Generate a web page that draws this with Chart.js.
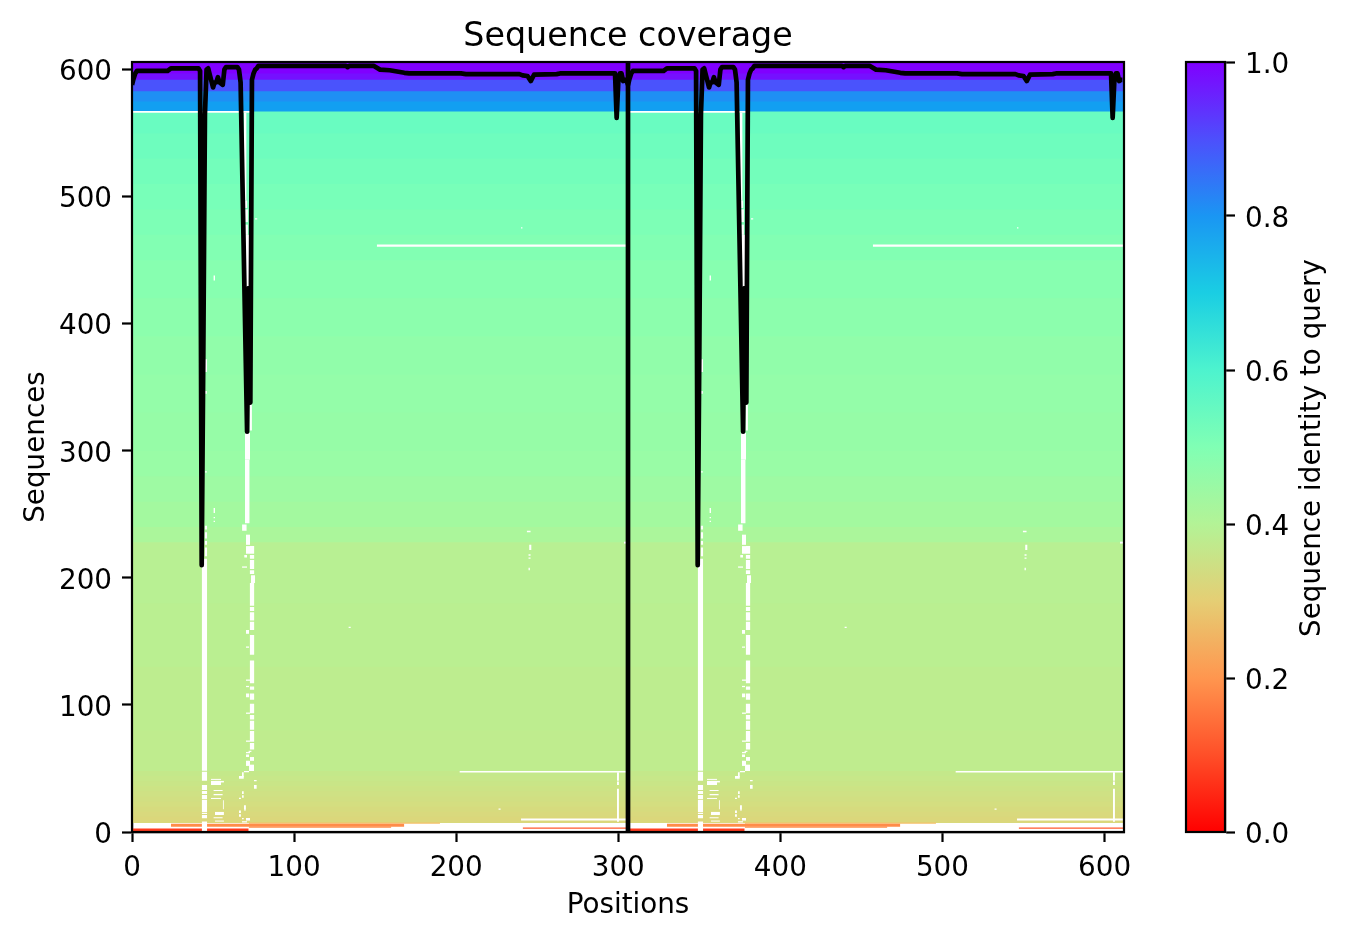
<!DOCTYPE html>
<html lang="en">
<head>
    <meta charset="UTF-8">
    <title>Sequence coverage</title>
    <script src="https://cdn.jsdelivr.net/npm/chart.js"></script>
    <style>
        html, body { margin: 0; padding: 0; background: #fff; }
        canvas { position: absolute; left: 0; top: 0; }
    </style>
</head>
<body>
    <canvas id="coverageChart" width="1347" height="939"></canvas>
    <canvas id="colorbarChart" width="1347" height="939"></canvas>

    <script>
        // the query is a doubled sequence, so everything repeats after this position
        const copyLength = 306;
        const xMax = 612;
        const yMax = 606;
        const firstFilledRow = 7.5;
        const xTicks = [0, 100, 200, 300, 400, 500, 600];
        const yTicks = [0, 100, 200, 300, 400, 500, 600];

        // identity of the sequences, sorted: top row of each band and its identity
        const bandTopRows = [12, 16, 20, 24, 28, 32, 36, 40, 44, 48, 80, 130, 180, 228, 240, 260, 280, 300, 330, 360, 390, 420, 450, 470, 490, 510, 530, 550, 567, 575, 583, 592, 597, 606];
        const bandIdentity = [0.32, 0.325, 0.33, 0.335, 0.34, 0.345, 0.35, 0.355, 0.36, 0.365, 0.375, 0.38, 0.385, 0.39, 0.415, 0.43, 0.44, 0.45, 0.455, 0.46, 0.465, 0.475, 0.485, 0.495, 0.505, 0.515, 0.525, 0.535, 0.545, 0.785, 0.81, 0.895, 0.98, 1.0];

        // low identity fragments at the bottom: rowFrom, rowTo, posFrom, posTo, identity
        const lowIdentityRows = [
            [0.8, 2.8, 0, 72, 0.074],
            [2.5, 3.6, 241, 306, 0.114],
            [3.4, 4.4, 72, 160, 0.185],
            [4.2, 6.4, 24, 168, 0.185],
            [6.4, 7.5, 72, 190, 0.27]
        ];

        // white cells (gaps in the alignment): rowFrom, rowTo, posFrom, posTo
        const gapBlocks = [
            // first column of gaps
            [0, 8.2, 43, 46.4], [10.8, 13.4, 43, 46.4], [14.2, 15.2, 43, 46.4], [15.8, 25.2, 43, 46.4],
            [25.7, 29.2, 43, 46.4], [30, 32.3, 43, 46.4], [33.1, 37, 43, 46.4], [40.4, 47.5, 43, 46.4],
            [48.3, 215, 43, 46.4], [217, 224, 44.8, 46.4], [226, 229, 44.8, 46.4], [231, 236, 44.8, 46.4], [238, 241, 44.8, 46.4],
            [283, 284, 45, 46.2], [345, 347, 45, 46.2], [362, 372, 45, 46.4],
            // pieces beside it
            [41, 41.8, 48.7, 54.9], [37, 40.2, 48.7, 54.9], [39, 40.2, 51.2, 56.7], [32.3, 33, 50.2, 56],
            [29, 30, 50.2, 56], [26, 26.8, 48.7, 54.9], [18, 25, 56, 56.7], [13.4, 15.8, 51.2, 56.7],
            [10.8, 11.6, 50.2, 56], [8.2, 9, 51.2, 56.7], [251, 255, 50.2, 51.2], [247, 248, 50.2, 51.2],
            [244, 245, 50.2, 51.2], [434, 438, 50.2, 51.2],
            // second wandering column, bottom part
            [63, 64, 71.8, 73.8], [59, 61, 70.3, 72.2], [56, 59, 72.8, 75.3], [55, 56, 70.3, 72.2], [53, 55, 70.7, 72.8],
            [48, 53, 72.2, 75.3], [47, 48, 69, 72.2], [43, 47, 67.8, 69], [42, 44, 66, 69], [40, 41, 75.2, 77],
            [34, 37, 75.2, 77], [30, 32, 67.8, 69], [27, 29, 67.8, 69], [26, 27, 66, 67.2], [18, 21, 69, 70.3],
            [17, 18, 69, 70.3], [15, 17, 66, 67.2], [12, 14, 66, 67.2], [10, 11, 67.8, 69], [9, 11, 70.3, 72.8], [7.5, 8.5, 67.8, 71],
            // second wandering column, middle part
            [65, 70, 72.6, 75.5], [71, 79.5, 72.6, 75.5], [80.5, 87.5, 72.6, 75.5], [88.5, 92, 72.6, 75.5],
            [93.5, 101, 72.6, 75.5], [104, 109, 72.6, 75.5], [112, 114.5, 72.6, 75.5], [117, 135, 72.6, 75.5],
            [139.5, 155, 72.6, 75.5], [159, 165.5, 72.6, 75.5], [166.5, 173, 72.6, 75.5], [174, 177, 72.6, 75.5],
            [178, 196, 72.6, 75.5], [196, 202, 73.4, 76], [203, 206, 72.6, 75.5], [207, 214, 72.6, 75.5],
            [215, 218, 72.6, 75.5], [219, 225, 72.6, 75.5],
            [208, 209, 67.9, 71], [226, 234, 70.3, 72.8], [237, 242, 67.9, 70.8],
            [156, 159, 70.3, 72.2], [145, 146, 70.3, 72.2], [119, 120, 70.3, 72.8], [114, 115, 70.3, 72.2],
            [106, 109, 70.3, 72.4], [93, 94, 70.3, 72.8], [71, 72, 70.3, 72.8], [62, 63, 70.3, 72.8], [52, 56, 70.3, 72.8],
            [219, 225, 70.3, 72.8], [216, 218, 69.2, 71],
            // upper part, mostly under the coverage line
            [243, 293, 69.7, 72.6], [293, 314, 69.7, 72.8], [316, 337, 72.4, 74], [338, 428, 70, 72.8],
            [428, 470, 69.7, 72.8], [470, 478, 69.7, 71.5], [480, 490, 69.7, 71.5], [491, 497, 69.7, 71.2],
            [497, 566, 69.1, 70.7], [482, 483, 75.8, 77.4],
            // single cells and long lines
            [160.5, 161.5, 133.5, 135], [206, 208, 244.5, 245.5], [215, 216, 244.5, 246], [217.5, 218.5, 244.5, 246], [222, 226, 245, 246.5], [236, 237, 243.5, 246],
            [17.5, 18.5, 226, 227.5], [475, 476, 240, 241], [227, 228.5, 303.5, 306],
            [460.6, 462.4, 151, 306], [566, 567.5, 0, 74], [46.8, 48, 202, 306], [9, 10.6, 240, 306],
            [8, 34, 299.2, 300.4], [37, 39.7, 299.2, 300.4], [40.4, 47, 299.2, 300.4]
        ];

        // coverage curve of one copy, read at the positions where it changes
        const coveragePositions = [0, 1, 2, 3, 22, 24, 41, 42, 43, 44, 45, 46, 47, 48, 50, 51, 52, 53, 54, 56, 57, 58, 65, 66, 67, 71, 72, 73, 74, 75, 76, 77, 78, 132, 133, 134, 149, 153, 159, 168, 171, 203, 206, 239, 241, 244, 246, 248, 262, 264, 298, 299, 300, 301, 302, 303, 304, 305];
        const coverageDepth = [588, 593, 597, 599, 599, 601, 601, 599, 210, 378, 565, 600, 601, 596, 586, 590, 590, 594, 590, 588, 600, 602, 602, 600, 590, 315, 428, 338, 592, 597, 600, 601, 603, 603, 602, 603, 603, 600, 599.5, 597.5, 597, 597, 596.5, 596.5, 595.5, 595, 591, 596, 596.5, 597, 597, 562, 590, 597, 597, 591, 592, 592];

        // colorbar
        const colorbarTicks = [0, 0.2, 0.4, 0.6, 0.8, 1.0];
        const colorbarStops = [0, 0.1, 0.2, 0.3, 0.4, 0.5, 0.6, 0.7, 0.8, 0.9, 1.0];

        const titleText = 'Sequence coverage';
        const xTitleText = 'Positions';
        const yTitleText = 'Sequences';
        const barTitleText = 'Sequence identity to query';

        Chart.defaults.font.family = '"DejaVu Sans"';
        Chart.defaults.color = '#000';

        // matplotlib rainbow, reversed (identity 0 is red, 1 is violet)
        function identityColor(v) {
            const x = 1 - v;
            const r = Math.min(1, Math.abs(2 * x - 0.5));
            const g = Math.sin(Math.PI * x);
            const b = Math.cos(Math.PI * x / 2);
            return `rgb(${Math.round(r * 255)},${Math.round(g * 255)},${Math.round(b * 255)})`;
        }

        function block(rowFrom, rowTo, posFrom, posTo, color, order) {
            return {
                data: [{x: posFrom, y: rowTo}, {x: posTo, y: rowTo}],
                fill: {value: rowFrom},
                backgroundColor: color,
                borderWidth: 0,
                pointRadius: 0,
                order: order
            };
        }

        const frame = {
            id: 'frame',
            afterDatasetsDraw(chart) {
                const {ctx, chartArea: a} = chart;
                ctx.save();
                ctx.strokeStyle = '#000';
                ctx.lineWidth = 2.2;
                ctx.strokeRect(a.left, a.top, a.right - a.left, a.bottom - a.top);
                ctx.restore();
            }
        };

        // canvas 'middle' sits a bit high for DejaVu, push the y tick labels down onto their ticks
        const centerYLabels = {
            id: 'centerYLabels',
            beforeDraw(chart) {
                chart.scales.y.getLabelItems().forEach(item => { item.options.translation[1] += 3.5; });
            }
        };

        const datasets = [];

        // bands painted from the top one down so no seams show between them
        bandTopRows.forEach((top, i) => {
            datasets.push(block(firstFilledRow, top, 0, xMax, identityColor(bandIdentity[i]), 30));
        });

        [0, copyLength].forEach(offset => {
            lowIdentityRows.forEach(r => {
                datasets.push(block(r[0], r[1], r[2] + offset, r[3] + offset, identityColor(r[4]), 25));
            });
            gapBlocks.forEach(g => {
                datasets.push(block(g[0], g[1], g[2] + offset, g[3] + offset, '#fff', 20));
            });
        });

        const coverage = [];
        [0, copyLength].forEach(offset => {
            coveragePositions.forEach((p, i) => coverage.push({x: p + offset, y: coverageDepth[i]}));
        });

        datasets.push({
            data: coverage,
            borderColor: '#000',
            borderWidth: 4.7,
            borderJoinStyle: 'round',
            pointRadius: 0,
            fill: false,
            order: 10
        });

        // divider between the two copies
        datasets.push({
            data: [{x: copyLength, y: 0}, {x: copyLength, y: yMax}],
            borderColor: '#000',
            borderWidth: 4.7,
            pointRadius: 0,
            fill: false,
            order: 9
        });

        new Chart(document.getElementById('coverageChart'), {
            type: 'line',
            data: {datasets: datasets},
            plugins: [frame, centerYLabels],
            options: {
                responsive: false,
                devicePixelRatio: 1,
                animation: false,
                layout: {padding: {left: 0, right: 223, top: 0, bottom: 0}},
                plugins: {
                    legend: {display: false},
                    tooltip: {enabled: false},
                    title: {
                        display: true,
                        text: titleText,
                        fullSize: false,
                        color: '#000',
                        font: {size: 33.3, weight: 'normal', lineHeight: 1},
                        padding: {top: 21, bottom: 7.7}
                    }
                },
                scales: {
                    x: {
                        type: 'linear',
                        min: 0,
                        max: xMax,
                        afterFit: s => { s.height = 107; },
                        afterBuildTicks: s => { s.ticks = xTicks.map(v => ({value: v})); },
                        ticks: {padding: 10, maxRotation: 0, autoSkip: false, font: {size: 27.8}},
                        grid: {drawOnChartArea: false, tickLength: 10, tickWidth: 2.2, tickColor: '#000'},
                        border: {color: '#000', width: 2.2},
                        title: {display: true, text: xTitleText, font: {size: 27.8}, padding: {top: 0, bottom: 17}}
                    },
                    y: {
                        min: 0,
                        max: yMax,
                        afterFit: s => { s.width = 132; },
                        afterBuildTicks: s => { s.ticks = yTicks.map(v => ({value: v})); },
                        ticks: {padding: 10, autoSkip: false, font: {size: 27.8}},
                        grid: {drawOnChartArea: false, tickLength: 10, tickWidth: 2.2, tickColor: '#000'},
                        border: {color: '#000', width: 2.2},
                        title: {display: true, text: yTitleText, font: {size: 27.8}, padding: {top: 20, bottom: 0}}
                    }
                }
            }
        });

        // label reads bottom to top, which a right hand scale title can't do
        const barLabel = {
            id: 'barLabel',
            afterDraw(chart) {
                const {ctx, chartArea: a} = chart;
                ctx.save();
                ctx.font = '27.8px "DejaVu Sans"';
                ctx.fillStyle = '#000';
                ctx.textAlign = 'center';
                ctx.textBaseline = 'middle';
                ctx.translate(1313, (a.top + a.bottom) / 2 + 1);
                ctx.rotate(-Math.PI / 2);
                ctx.fillText(barTitleText, 0, 0);
                ctx.restore();
            }
        };

        new Chart(document.getElementById('colorbarChart'), {
            type: 'line',
            data: {
                datasets: [{
                    data: [{x: 0, y: 1}, {x: 1, y: 1}],
                    fill: {value: 0},
                    borderWidth: 0,
                    pointRadius: 0,
                    backgroundColor(context) {
                        const a = context.chart.chartArea;
                        if (!a) return 'transparent';
                        const g = context.chart.ctx.createLinearGradient(0, a.bottom, 0, a.top);
                        colorbarStops.forEach(v => g.addColorStop(v, identityColor(v)));
                        return g;
                    }
                }]
            },
            plugins: [frame, barLabel, centerYLabels],
            options: {
                responsive: false,
                devicePixelRatio: 1,
                animation: false,
                layout: {padding: {left: 1186, right: 0, top: 62, bottom: 107}},
                plugins: {legend: {display: false}, tooltip: {enabled: false}},
                scales: {
                    x: {type: 'linear', display: false, min: 0, max: 1},
                    y: {
                        position: 'right',
                        min: 0,
                        max: 1,
                        afterFit: s => { s.width = 122; },
                        afterBuildTicks: s => { s.ticks = colorbarTicks.map(v => ({value: v})); },
                        ticks: {padding: 10, autoSkip: false, font: {size: 27.8}, callback: v => v.toFixed(1)},
                        grid: {drawOnChartArea: false, tickLength: 10, tickWidth: 2.2, tickColor: '#000'},
                        border: {color: '#000', width: 2.2}
                    }
                }
            }
        });
    </script>
</body>
</html>
